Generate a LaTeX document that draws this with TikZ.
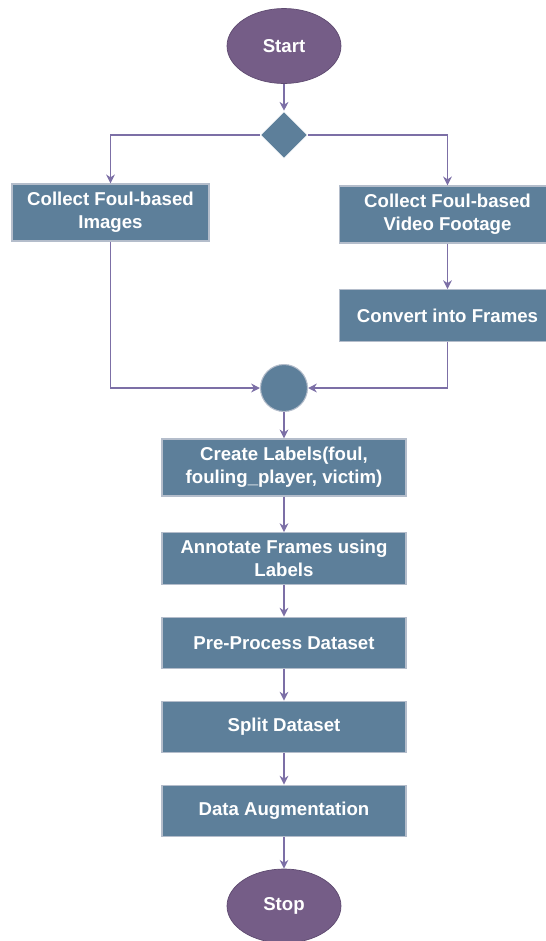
\documentclass[tikz,border=0pt]{standalone}
\usepackage{fontspec}
\setmainfont{Liberation Sans}
\usetikzlibrary{shapes.geometric,arrows.meta}
\definecolor{boxblue}{HTML}{5D7F9A}
\definecolor{boxedge}{HTML}{B4BDCB}
\definecolor{termpurple}{HTML}{755D87}
\definecolor{termedge}{HTML}{5E4A70}
\definecolor{flowline}{HTML}{7C6FA6}
\begin{document}
\begin{tikzpicture}[x=0.02cm,y=-0.02cm,
  every node/.style={font=\bfseries\fontsize{10.6}{13}\selectfont,text=white,align=center},
  proc/.style={rectangle,fill=boxblue,draw=boxedge,line width=0.8pt,minimum width=4.88cm,minimum height=1.03cm,inner sep=0pt},
  term/.style={ellipse,fill=termpurple,draw=termedge,line width=0.4pt,minimum width=2.28cm,minimum height=1.5cm},
  link/.style={draw=flowline,line width=0.75pt,-{Stealth[length=5pt,width=5pt]}}]
  \useasboundingbox (0,0) rectangle (546,941);
  \node[term] (start) at (284,46) {Start};
  \node[diamond,fill=boxblue,draw=white,line width=0.6pt,minimum size=0.95cm,inner sep=0pt] (dec) at (284,135) {};
  \node[proc,minimum width=3.94cm,minimum height=1.14cm] (img) at (110.5,212.5) {Collect Foul-based\\Images};
  \node[proc,minimum width=4.32cm,minimum height=1.14cm] (vid) at (447.5,214.5) {Collect Foul-based\\Video Footage};
  \node[proc,minimum width=4.32cm] (conv) at (447.5,315.5) {Convert into Frames};
  \node[circle,fill=boxblue,draw=boxedge,line width=0.6pt,minimum size=0.94cm,inner sep=0pt] (join) at (284,388) {};
  \node[proc,minimum height=1.14cm] (lab) at (284,467.5) {Create Labels(foul,\\fouling\_player, victim)};
  \node[proc] (ann) at (284,558.5) {Annotate Frames using\\Labels};
  \node[proc] (pre) at (284,643) {Pre-Process Dataset};
  \node[proc] (split) at (284,727) {Split Dataset};
  \node[proc] (aug) at (284,811) {Data Augmentation};
  \node[term,minimum height=1.48cm] (stop) at (284,906) {Stop};

  \draw[link] (start) -- (dec);
  \draw[link] (dec.west) -| (img.north);
  \draw[link] (dec.east) -| (vid.north);
  \draw[link] (vid) -- (conv);
  \draw[link] (img.south) |- (join.west);
  \draw[link] (conv.south) |- (join.east);
  \draw[link] (join) -- (lab);
  \draw[link] (lab) -- (ann);
  \draw[link] (ann) -- (pre);
  \draw[link] (pre) -- (split);
  \draw[link] (split) -- (aug);
  \draw[link] (aug) -- (stop);
\end{tikzpicture}
\end{document}
